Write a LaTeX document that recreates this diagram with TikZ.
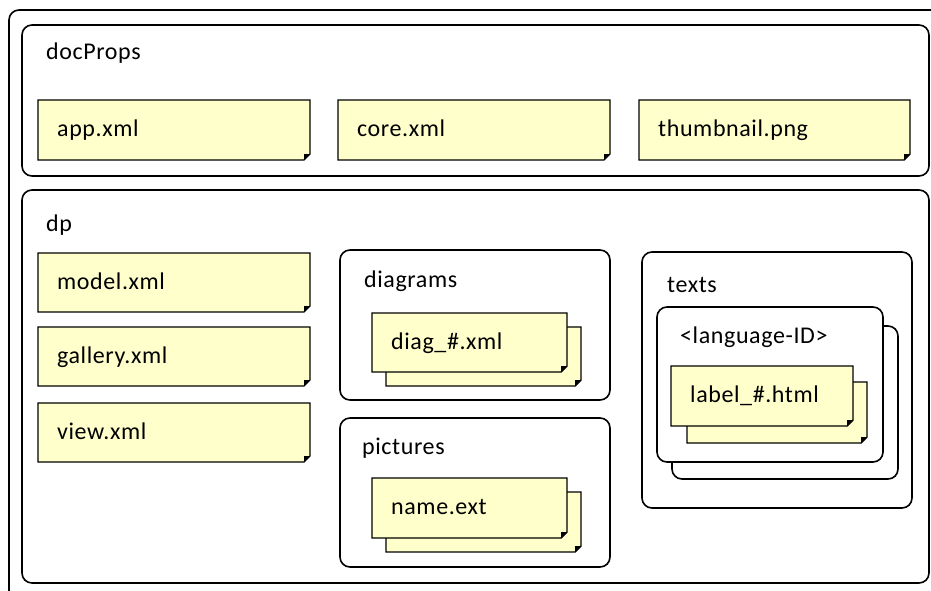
\documentclass[tikz,border=0pt]{standalone}
\usepackage{fontspec}
\setmainfont{Carlito}[LetterSpace=2.5]
\begin{document}
\begin{tikzpicture}[x=1pt,y=-1pt,
  frame/.style={draw=black, line width=1.6pt, rounded corners=10pt, fill=white},
  fileline/.style={draw=black, line width=1.4pt, fill=fileyellow},
  filetext/.style={anchor=base west, inner sep=0pt, font=\fontsize{24}{28}\selectfont},
  title/.style={anchor=base west, inner sep=0pt, font=\fontsize{24}{28}\selectfont}]
\definecolor{fileyellow}{RGB}{255,255,204}
\newcommand\docfile[6]{%
  \filldraw[fileline] (#2,#3) -- (#4,#3) -- (#4,#5-6) -- (#4-6,#5) -- (#2,#5) -- cycle;
  \fill[black] (#4,#5-6) -- (#4-6,#5) -- (#4-6,#5-6) -- cycle;
  \node[filetext] (#1) at (#2+19,#3+36) {#6};}
\useasboundingbox (0,0) rectangle (931,591);
% outer frame (cut by the picture edge)
\draw[frame] (9,640) -- (9,10) -- (990,10);
% docProps
\draw[frame] (22,25) rectangle (929,176);
\node[title] (tdocprops) at (46,59.5) {docProps};
\docfile{app}{38}{100}{310}{160}{app.xml}
\docfile{core}{338}{100}{610}{160}{core.xml}
\docfile{thumb}{639}{100}{910}{160}{thumbnail.png}
% dp
\draw[frame] (22,190) rectangle (929,583);
\node[title] (tdp) at (46,231) {dp};
\docfile{model}{38}{253}{310}{312}{model.xml}
\docfile{gallery}{38}{327}{310}{386}{gallery.xml}
\docfile{view}{38}{403}{310}{462}{view.xml}
% diagrams
\draw[frame] (340,250) rectangle (610,400);
\node[title] (tdiagrams) at (364,287) {diagrams};
\docfile{diagback}{386}{327}{581}{386}{}
\docfile{diag}{372}{313}{567}{372}{diag\_\#.xml}
% pictures
\draw[frame] (340,418) rectangle (610,567);
\node[title] (tpictures) at (362,454) {pictures};
\docfile{nameback}{386}{492}{581}{552}{}
\docfile{name}{372}{478}{567}{538}{name.ext}
% texts
\draw[frame] (642,252) rectangle (912,508);
\node[title] (ttexts) at (667,292) {texts};
\draw[frame] (672,326) rectangle (898,479);
\draw[frame] (657,307) rectangle (883,462);
\node[title] (tlang) at (680,343) {<language-ID>};
\docfile{labelback}{687}{382}{867}{443}{}
\docfile{label}{671}{366}{853}{426}{label\_\#.html}
\end{tikzpicture}
\end{document}
